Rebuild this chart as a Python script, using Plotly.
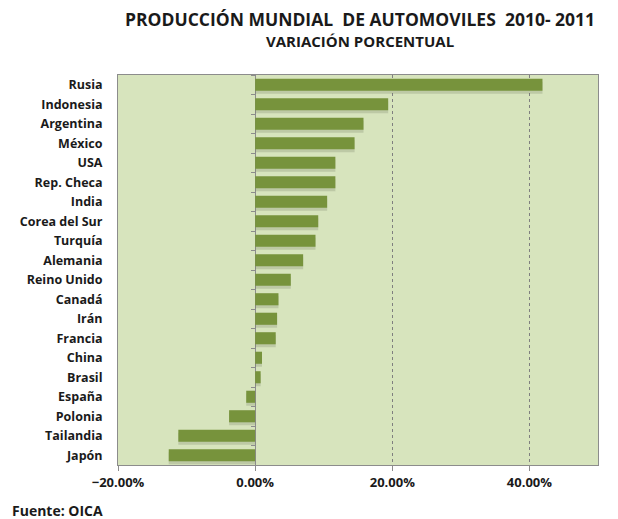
import plotly.graph_objects as go

# variacion porcentual de la produccion 2010-2011
paises = ['Rusia', 'Indonesia', 'Argentina', 'México', 'USA', 'Rep. Checa', 'India',
          'Corea del Sur', 'Turquía', 'Alemania', 'Reino Unido', 'Canadá', 'Irán',
          'Francia', 'China', 'Brasil', 'España', 'Polonia', 'Tailandia', 'Japón']
variacion = [41.9, 19.4, 15.8, 14.5, 11.7, 11.7, 10.5, 9.2, 8.8, 7.0, 5.2, 3.4, 3.2,
             3.0, 1.0, 0.8, -1.3, -3.8, -11.2, -12.6]
ticks_x = [-0.2, 0.0, 0.2, 0.4]

valores = [v / 100 for v in variacion]

# the page body adds an 8px margin, so the figure is drawn 8px smaller
W, H = 610, 511
L, R, T, B = 110, 20, 67, 54
pw, ph = W - L - R, H - T - B
XMIN, XMAX = -0.2, 0.5


def pos(xp, yp):
    # page pixel -> paper coordinates
    return (xp - 8 - L) / pw, (H - B - (yp - 8)) / ph


fig = go.Figure()
# soft shadow under the bars
fig.add_trace(go.Bar(
    x=valores, y=paises, orientation='h', width=0.62, offset=-0.16,
    marker=dict(color='rgba(110,120,95,0.25)', line=dict(width=0)),
    hoverinfo='skip'
))
fig.add_trace(go.Bar(
    x=valores, y=paises, orientation='h', yaxis='y2',
    width=0.62, marker=dict(color='#77933C', line=dict(width=0)),
    hovertemplate='%{y}: %{x:.2%}<extra></extra>'
))

t1 = pos(360, 19)
t2 = pos(360, 41)
t3 = pos(10, 510)

fig.update_layout(
    width=W, height=H,
    margin=dict(l=L, r=R, t=T, b=B),
    paper_bgcolor='white', plot_bgcolor='#D7E4BD',
    font=dict(family='Open Sans', size=11, color='#1a1a1a'),
    showlegend=False,
    annotations=[
        dict(text='<b>PRODUCCIÓN MUNDIAL  DE AUTOMOVILES  2010- 2011</b>',
             x=t1[0], y=t1[1], xref='paper', yref='paper', showarrow=False,
             xanchor='center', yanchor='middle', font=dict(size=17.5)),
        dict(text='<b>VARIACIÓN PORCENTUAL</b>', x=t2[0], y=t2[1],
             xref='paper', yref='paper', showarrow=False,
             xanchor='center', yanchor='middle', font=dict(size=15)),
        dict(text='<b>Fuente: OICA</b>', x=t3[0], y=t3[1],
             xref='paper', yref='paper', showarrow=False,
             xanchor='left', yanchor='middle', font=dict(size=14)),
    ],
    xaxis=dict(
        range=[XMIN, XMAX], tickvals=ticks_x, tickformat='.2%',
        tickfont=dict(size=13, family='Open Sans', weight='bold'),
        showgrid=True, gridcolor='#7f7f7f', griddash='dot', gridwidth=1,
        zeroline=True, zerolinecolor='#8c8c8c', zerolinewidth=1,
        showline=True, linecolor='#8c8c8c', mirror=True,
        ticks='outside', ticklen=5, tickcolor='#8c8c8c',
    ),
    yaxis=dict(
        autorange='reversed',
        tickfont=dict(size=12.5, family='Open Sans', weight='bold'),
        showline=True, linecolor='#8c8c8c', mirror=True, ticks='',
        ticklabelstandoff=12,
    ),
    yaxis2=dict(
        overlaying='y', matches='y', anchor='free', autorange='reversed',
        position=(0 - XMIN) / (XMAX - XMIN), side='left',
        showticklabels=False, showline=False, showgrid=False,
        ticks='outside', ticklen=4, tickcolor='#8c8c8c', tickson='boundaries',
    ),
)

fig.write_html('out.html')
